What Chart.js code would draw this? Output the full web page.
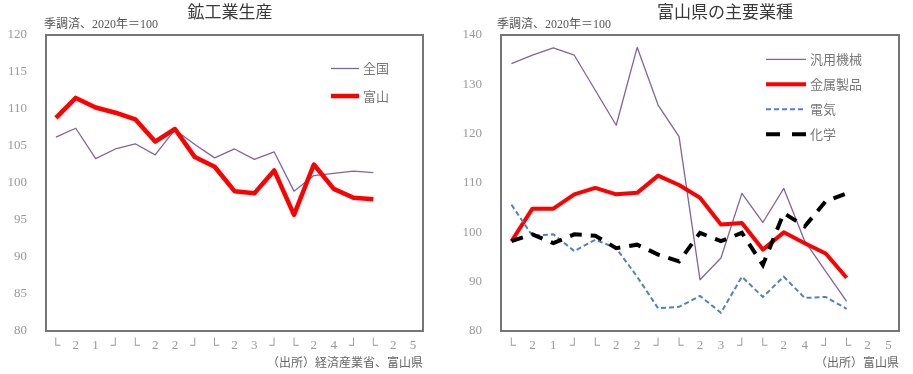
<!DOCTYPE html>
<html><head><meta charset="utf-8">
<script src="https://cdn.jsdelivr.net/npm/chart.js@4.4.0/dist/chart.umd.min.js"></script>
<style>
html,body{margin:0;padding:0;background:#fff;width:913px;height:374px;overflow:hidden}
#c1{position:absolute;left:0;top:0}
#c2{position:absolute;left:455px;top:0}
</style></head>
<body>
<canvas id="c1" width="455" height="374"></canvas>
<canvas id="c2" width="458" height="374"></canvas>
<script>
// ---- data ----
const categories = ['2021Q1','2021Q2','2021Q3','2021Q4','2022Q1','2022Q2','2022Q3','2022Q4',
  '2023Q1','2023Q2','2023Q3','2023Q4','2024Q1','2024Q2','2024Q3','2024Q4','2025Q1','2025Q2','2025Q3'];
const xTickLabels = ['└','2','1','┘','└','2','2','┘','└','2','3','┘','└','2','4','┘','└','2','5'];

const zenkoku = [106.2,107.4,103.3,104.6,105.3,103.8,107.2,105.2,103.4,104.6,103.2,104.2,98.9,101.0,101.3,101.6,101.4,null,null];
const toyama  = [108.8,111.5,110.2,109.5,108.6,105.6,107.3,103.5,102.2,98.9,98.6,101.7,95.7,102.5,99.2,98.0,97.8,null,null];

const hanyoKikai = [134.2,135.9,137.4,135.9,128.8,121.7,137.5,125.8,119.4,90.4,94.8,107.9,102.0,108.9,98.2,92.1,86.0,null,null];
const kinzoku    = [98.2,104.8,104.8,107.7,109.0,107.7,108.0,111.5,109.6,107.0,101.6,101.9,96.5,100.0,97.8,95.7,90.8,null,null];
const denki      = [105.6,99.3,99.6,96.2,98.5,96.8,91.0,84.6,84.9,87.1,83.7,91.0,86.9,91.0,86.7,86.9,84.5,null,null];
const kagaku     = [98.2,99.6,97.8,99.6,99.3,96.8,97.5,95.5,94.1,99.9,98.2,99.9,93.4,103.9,101.2,106.3,107.9,null,null];

const leftTicks = {min:80, max:120, step:5};
const rightTicks = {min:80, max:140, step:10};

// ---- styling helpers ----
const SERIF = "'Liberation Serif','Noto Sans CJK JP',serif";
const CJK = "'Noto Sans CJK JP','Liberation Serif',sans-serif";
const MIX = "'Liberation Serif','Noto Sans CJK JP',serif";

function decor(cfg){
  return {
    id:'decor',
    afterDraw(chart){
      const ctx = chart.ctx, a = chart.chartArea;
      ctx.save();
      // frame
      ctx.strokeStyle = '#767676';
      ctx.lineWidth = 2;
      ctx.strokeRect(a.left, a.top, a.right - a.left, a.bottom - a.top);
      // title
      ctx.fillStyle = '#3a3a3a';
      ctx.font = "17px " + CJK;
      ctx.textAlign = 'center';
      ctx.textBaseline = 'middle';
      ctx.fillText(cfg.title, cfg.titleX, 12);
      // subtitle
      ctx.fillStyle = '#555';
      ctx.font = "12px " + MIX;
      ctx.textAlign = 'left';
      ctx.fillText('季調済、2020年＝100', cfg.subX, 25);
      // source
      ctx.fillStyle = '#666';
      ctx.font = "12px " + CJK;
      ctx.textAlign = 'right';
      ctx.fillText(cfg.source, a.right, 362);
      // legend
      ctx.font = "13px " + CJK;
      ctx.textAlign = 'left';
      cfg.legend.forEach((it, i) => {
        const ds = chart.data.datasets[it.index];
        const y = cfg.legY + i * cfg.legStep;
        ctx.beginPath();
        ctx.strokeStyle = ds.borderColor;
        ctx.lineWidth = ds.borderWidth;
        ctx.setLineDash(it.dash || []);
        ctx.moveTo(cfg.legX, y);
        ctx.lineTo(cfg.legX + cfg.legW, y);
        ctx.stroke();
        ctx.setLineDash([]);
        ctx.fillStyle = '#777';
        ctx.fillText(ds.label, cfg.legX + cfg.legW + 4, y);
      });
      ctx.restore();
    }
  };
}

function xScale(){
  return {
    offset:true,
    grid:{display:false, drawTicks:false},
    border:{display:false},
    ticks:{autoSkip:false, maxRotation:0, minRotation:0, padding:7, color:'#999',
      font:{family:SERIF, size:13},
      callback:(v,i)=>xTickLabels[i]},
    afterFit(s){ s.height = 43; }
  };
}
function yScale(t){
  return {
    min:t.min, max:t.max,
    grid:{display:false, drawTicks:false},
    border:{display:false},
    ticks:{stepSize:t.step, padding:19, color:'#999', font:{family:SERIF, size:13}},
    afterFit(s){ s.width = 46; }
  };
}

// ---- left chart ----
new Chart(document.getElementById('c1'), {
  type:'line',
  data:{labels:categories, datasets:[
    {label:'全国', data:zenkoku, borderColor:'#8064A2', borderWidth:1.3, pointRadius:0, order:2, borderJoinStyle:'round'},
    {label:'富山', data:toyama, borderColor:'#FF0000', borderWidth:4.5, pointRadius:0, order:1, borderJoinStyle:'round'}
  ]},
  options:{
    responsive:false, animation:false,
    layout:{padding:{top:35, right:32, left:0, bottom:0}},
    plugins:{legend:{display:false}, tooltip:{enabled:false}, title:{display:false}},
    scales:{x:xScale(), y:yScale(leftTicks)}
  },
  plugins:[decor({title:'鉱工業生産', titleX:230, subX:44, source:'（出所）経済産業省、富山県',
    legX:331, legY:68.5, legStep:27.5, legW:28,
    legend:[{index:0},{index:1}]})]
});

// ---- right chart ----
new Chart(document.getElementById('c2'), {
  type:'line',
  data:{labels:categories, datasets:[
    {label:'汎用機械', data:hanyoKikai, borderColor:'#8064A2', borderWidth:1.3, pointRadius:0, order:4, borderJoinStyle:'round'},
    {label:'金属製品', data:kinzoku, borderColor:'#FF0000', borderWidth:4, pointRadius:0, order:3, borderJoinStyle:'round'},
    {label:'電気', data:denki, borderColor:'#4F81C6', borderWidth:2, pointRadius:0, order:2, borderDash:[5,3]},
    {label:'化学', data:kagaku, borderColor:'#000000', borderWidth:4, pointRadius:0, order:1, borderDash:[12,9]}
  ]},
  options:{
    responsive:false, animation:false,
    layout:{padding:{top:35, right:14, left:0, bottom:0}},
    plugins:{legend:{display:false}, tooltip:{enabled:false}, title:{display:false}},
    scales:{x:xScale(), y:yScale(rightTicks)}
  },
  plugins:[decor({title:'富山県の主要業種', titleX:270, subX:42, source:'（出所）富山県',
    legX:311, legY:59.3, legStep:25, legW:40,
    legend:[{index:0},{index:1},{index:2, dash:[5,3]},{index:3, dash:[14,12]}]})]
});
</script>
</body></html>
